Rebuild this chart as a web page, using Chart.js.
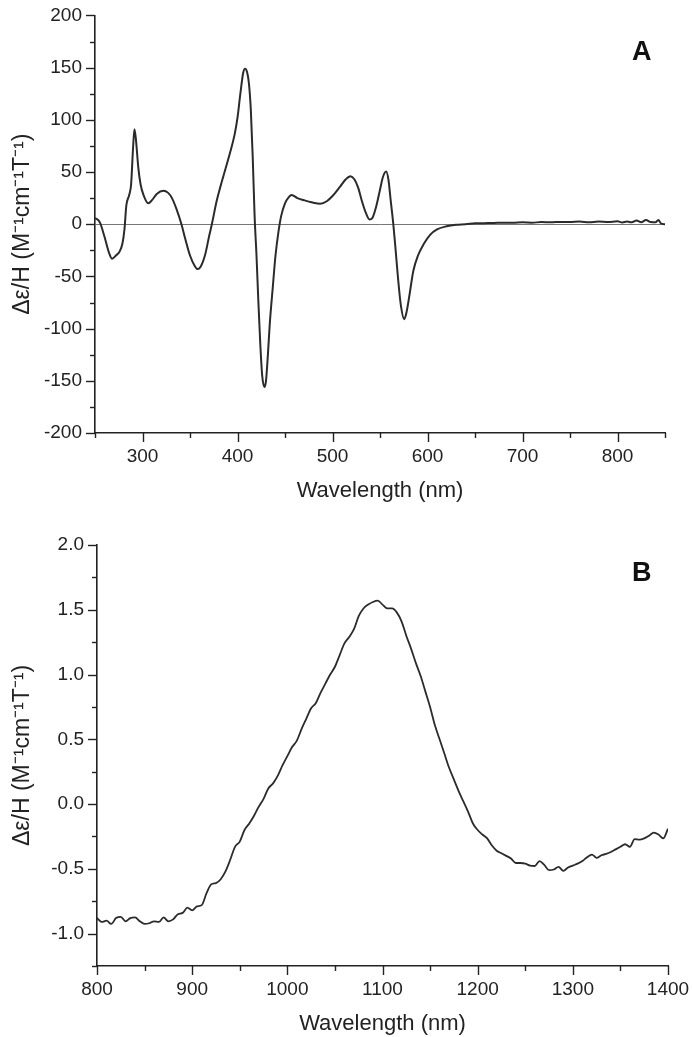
<!DOCTYPE html>
<html>
<head>
<meta charset="utf-8">
<script src="https://cdn.jsdelivr.net/npm/chart.js@4/dist/chart.umd.min.js"></script>
<style>
  html, body { margin: 0; padding: 0; background: #fff; width: 693px; height: 1037px; overflow: hidden; }
  .wrap { position: absolute; left: 0; }
  .panel { position: absolute; font-family: "Liberation Sans", Arial, sans-serif; font-weight: bold; font-size: 27px; line-height: 27px; color: #111; }
</style>
</head>
<body>
<div class="wrap" style="top:0px;"><canvas id="chartA" width="693" height="510"></canvas></div>
<div class="wrap" style="top:510px;"><canvas id="chartB" width="693" height="527"></canvas></div>
<div class="panel" style="left:632px; top:38px;">A</div>
<div class="panel" style="left:632px; top:559px;">B</div>
<script>
// ---------- Data: panel A (UV-vis MCD) ----------
const wavelengthA = [250,255,260,265,268,272,276,279,281,283,286,288,290,291.5,293,295.5,298,301,306,310,315,322,327,331,336,341,345,350,355,358,361,366,370,373,378,382,387,392,397,400,403,406,408,410,412,414,416,418,420,422,424,426,428.4,430,432,434,437,440,443,446,450,454,457,463,470,478,487,494,500,508,514,519,523,527,531,535,539,542,546,550,553,556.5,559,561,564,566,569,572,575.5,578,581,585,590,596,603,610,620,630,640,650,660,670,680,690,700,710,720,730,740,750,760,770,780,790,800,805,810,815,820,825,830,835,840,843,846,850];
const mcdA = [6,2,-12,-28,-33,-30,-26,-18,-5,18,28,38,72,91,82,55,38,28,20,23,29,32,30,25,14,0,-14,-30,-40,-43,-41,-29,-12,0,22,36,52,68,86,102,125,145,149,146,135,110,65,8,-30,-75,-115,-145,-156,-150,-125,-95,-62,-30,-8,8,20,26,28,25,23,21,19.5,22,27,36,43,46,43,35,22,11,4.5,6,17,33,45,50.5,42,25,0,-20,-52,-78,-91,-84,-68,-45,-30,-19,-10,-5,-2,-0.5,0,0.8,1,1.2,1.5,1.3,1.8,1.5,2,1.8,2.2,2,2.5,1.8,2.6,2,2.8,1.7,2.5,1.8,3.5,1.9,4,2,1.8,4,0.5,0];

// ---------- Data: panel B (NIR MCD) ----------
const wavelengthB = [800,805,810,815,820,825,830,835,840,845,850,855,860,865,870,875,880,885,890,895,900,905,910,915,920,925,930,935,940,945,950,955,960,965,970,975,980,985,990,995,1000,1005,1010,1015,1020,1025,1030,1035,1040,1045,1050,1055,1060,1065,1070,1075,1080,1085,1090,1095,1100,1105,1110,1115,1120,1125,1130,1135,1140,1145,1150,1155,1160,1165,1170,1175,1180,1185,1190,1195,1200,1205,1210,1215,1220,1225,1230,1235,1240,1245,1250,1255,1260,1265,1270,1275,1280,1285,1290,1295,1300,1305,1310,1315,1320,1325,1330,1335,1340,1345,1350,1355,1360,1365,1370,1375,1380,1385,1390,1395,1400];
const mcdB = [-0.88,-0.91,-0.90,-0.925,-0.88,-0.87,-0.905,-0.88,-0.875,-0.905,-0.925,-0.92,-0.905,-0.91,-0.875,-0.905,-0.89,-0.85,-0.84,-0.80,-0.82,-0.79,-0.78,-0.69,-0.62,-0.61,-0.58,-0.52,-0.43,-0.33,-0.29,-0.20,-0.15,-0.09,-0.02,0.04,0.12,0.16,0.22,0.30,0.37,0.44,0.49,0.58,0.66,0.74,0.78,0.86,0.93,1.00,1.06,1.15,1.24,1.29,1.35,1.45,1.51,1.54,1.56,1.57,1.54,1.51,1.51,1.48,1.41,1.30,1.20,1.09,0.99,0.87,0.75,0.61,0.50,0.39,0.28,0.19,0.10,0.02,-0.06,-0.15,-0.20,-0.235,-0.265,-0.32,-0.36,-0.38,-0.40,-0.42,-0.455,-0.455,-0.46,-0.475,-0.478,-0.44,-0.47,-0.51,-0.505,-0.485,-0.515,-0.49,-0.475,-0.46,-0.44,-0.41,-0.39,-0.415,-0.395,-0.385,-0.37,-0.35,-0.33,-0.31,-0.33,-0.27,-0.275,-0.265,-0.245,-0.22,-0.235,-0.265,-0.19];

// ---------- Axis settings ----------
const axisA = { xMin: 250, xMax: 850, xStep: 50, xMajor: 100, yMin: -200, yMax: 200, yStep: 25, yMajor: 50 };
const axisB = { xMin: 800, xMax: 1400, xStep: 50, xMajor: 100, yMin: -1.25, yMax: 2.0, yStep: 0.25, yMajor: 0.5 };
const xTitle = 'Wavelength (nm)';
const yTitle = 'Δε/H (M⁻¹cm⁻¹T⁻¹)';

const FONT = '"Liberation Sans", Arial, sans-serif';
const INK = '#222';

function isMajor(v, step) {
  const r = v / step;
  return Math.abs(r - Math.round(r)) < 1e-6;
}

const tickPlugin = {
  id: 'mmTicks',
  afterDraw(chart, args, opts) {
    const ctx = chart.ctx;
    ctx.save();
    ctx.strokeStyle = INK;
    ctx.lineWidth = 1.4;
    const xs = chart.scales.x, ys = chart.scales.y;
    xs.ticks.forEach(t => {
      const p = Math.round(xs.getPixelForValue(t.value)) + 0.5;
      const len = isMajor(t.value, opts.xMajor) ? 9 : 5;
      ctx.beginPath(); ctx.moveTo(p, xs.top); ctx.lineTo(p, xs.top + len); ctx.stroke();
    });
    ys.ticks.forEach(t => {
      const p = Math.round(ys.getPixelForValue(t.value)) + 0.5;
      const len = isMajor(t.value, opts.yMajor) ? 9 : 5;
      ctx.beginPath(); ctx.moveTo(ys.right - len, p); ctx.lineTo(ys.right, p); ctx.stroke();
    });
    ctx.restore();
  }
};

function makeChart(id, wl, vals, ax, lay, opts) {
  const pts = wl.map((w, i) => ({ x: w, y: vals[i] }));
  return new Chart(document.getElementById(id), {
    type: 'line',
    data: { datasets: [{
      data: pts,
      borderColor: '#2b2b2b',
      borderWidth: opts.lineWidth,
      pointRadius: 0,
      cubicInterpolationMode: 'monotone',
      fill: false
    }]},
    plugins: [tickPlugin],
    options: {
      responsive: false,
      animation: false,
      devicePixelRatio: 1,
      layout: { padding: lay.padding },
      plugins: {
        legend: { display: false },
        tooltip: { enabled: false },
        mmTicks: { xMajor: ax.xMajor, yMajor: ax.yMajor }
      },
      scales: {
        x: {
          type: 'linear',
          min: ax.xMin, max: ax.xMax,
          afterFit: s => { s.height = lay.xHeight; },
          border: { display: true, color: INK, width: 1.6 },
          grid: { display: true, drawOnChartArea: false, drawTicks: true, tickLength: 9, tickColor: 'rgba(0,0,0,0)' },
          ticks: {
            stepSize: ax.xStep, autoSkip: false, maxRotation: 0, padding: 3,
            color: INK, font: { family: FONT, size: 19 },
            callback: v => isMajor(v, ax.xMajor) ? String(Math.round(v)) : ''
          },
          title: { display: true, text: xTitle, color: INK, font: { family: FONT, size: 22 }, padding: { top: 0, bottom: lay.xTitlePad } }
        },
        y: {
          type: 'linear',
          min: ax.yMin, max: ax.yMax,
          afterFit: s => { s.width = lay.yWidth; },
          border: { display: true, color: INK, width: 1.6 },
          grid: {
            display: true, drawOnChartArea: opts.zeroLine, drawTicks: true, tickLength: 9,
            tickColor: 'rgba(0,0,0,0)',
            lineWidth: 1,
            color: c => (c.tick && Math.abs(c.tick.value) < 1e-9) ? '#777' : 'rgba(0,0,0,0)'
          },
          ticks: {
            stepSize: ax.yStep, autoSkip: false, padding: 4,
            color: INK, font: { family: FONT, size: 19 },
            callback: v => isMajor(v, ax.yMajor) ? (opts.decimals ? v.toFixed(1) : String(Math.round(v))) : ''
          },
          title: { display: true, text: yTitle, color: INK, font: { family: FONT, size: 23 }, padding: { top: 9, bottom: 0 } }
        }
      }
    }
  });
}

makeChart('chartA', wavelengthA, mcdA, axisA,
  { padding: { left: 0, right: 28, top: 14, bottom: 0 }, xHeight: 77, yWidth: 95, xTitlePad: 6 },
  { lineWidth: 2, zeroLine: true, decimals: false });

makeChart('chartB', wavelengthB, mcdB, axisB,
  { padding: { left: 0, right: 25, top: 35, bottom: 0 }, xHeight: 71, yWidth: 97, xTitlePad: 0 },
  { lineWidth: 1.8, zeroLine: false, decimals: true });
</script>
</body>
</html>
